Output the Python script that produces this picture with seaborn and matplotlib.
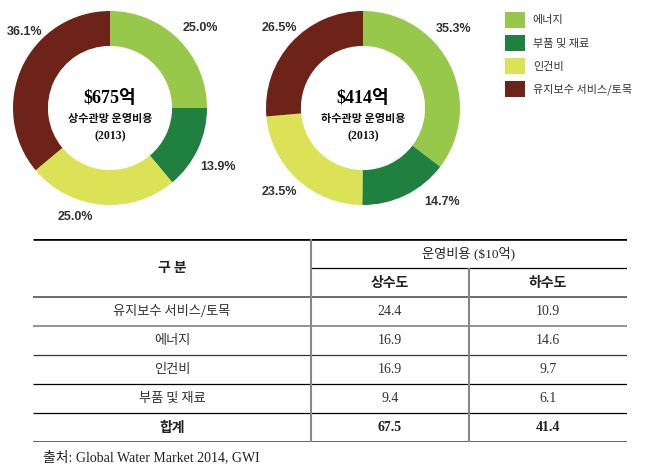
import matplotlib
matplotlib.use("Agg")
import matplotlib.pyplot as plt
from matplotlib.patches import Patch
import seaborn as sns

# Data
categories = ['에너지', '부품 및 재료', '인건비', '유지보수 서비스/토목']
water_cost = [16.9, 9.4, 16.9, 24.4]      # 상수도, $10억
sewer_cost = [14.6, 6.1, 9.7, 10.9]       # 하수도, $10억
water_pct = ['25.0%', '13.9%', '25.0%', '36.1%']
sewer_pct = ['35.3%', '14.7%', '23.5%', '26.5%']
water_total = 67.5
sewer_total = 41.4
table_order = [3, 0, 2, 1]   # 유지보수, 에너지, 인건비, 부품 및 재료

sns.set_theme(style="white")
plt.rcParams['font.family'] = ['Noto Sans CJK KR', 'DejaVu Sans']
palette = sns.color_palette(['#98c84a', '#1f8040', '#dce256', '#6e2318'])

SERIF = ['Liberation Serif', 'Noto Sans CJK KR']
LABEL = ['Liberation Sans', 'Noto Sans CJK KR']

W, H = 660, 470
fig = plt.figure(figsize=(W / 100, H / 100), dpi=100)
fig.patch.set_facecolor('white')


def px_axes(left, top, w, h):
    return fig.add_axes([left / W, 1 - (top + h) / H, w / W, h / H])


def donut(cx, cy, values, pct, label_pos, amount, title):
    r = 97
    ax = px_axes(cx - r, cy - r, 2 * r, 2 * r)
    ax.pie(values, colors=palette, startangle=90, counterclock=False,
           radius=1, wedgeprops=dict(width=0.36, edgecolor='none'))
    ax.set_xlim(-1, 1)
    ax.set_ylim(-1, 1)
    ax.set_aspect('equal')
    ax.axis('off')
    for txt, (x, y) in zip(pct, label_pos):
        ax.text(x, y, txt, ha='center', va='center', fontsize=9,
                fontweight='bold', color='#333333', family=LABEL, clip_on=False)
    ax.text(0, 0.1, amount, ha='center', va='center', fontsize=13,
            fontweight='bold', color='black', family=SERIF)
    ax.text(0, -0.11, title, ha='center', va='center', fontsize=8,
            fontweight='bold', color='#111111')
    ax.text(0, -0.29, '(2013)', ha='center', va='center', fontsize=8.5,
            fontweight='bold', color='#111111', family=SERIF)


donut(110, 108, water_cost, water_pct,
      [(0.93, 0.82), (1.11, -0.61), (-0.36, -1.12), (-0.88, 0.78)],
      '$675억', '상수관망 운영비용')
donut(363, 108, sewer_cost, sewer_pct,
      [(0.93, 0.81), (0.81, -0.97), (-0.86, -0.87), (-0.86, 0.82)],
      '$414억', '하수관망 운영비용')

# Legend
handles = [Patch(facecolor=c, edgecolor='none') for c in palette]
leg = fig.legend(handles, categories, loc='upper left',
                 bbox_to_anchor=(505 / W, 1 - 12 / H), frameon=False,
                 fontsize=8, handlelength=1.8, handleheight=1.8,
                 handletextpad=0.7, labelspacing=0.66,
                 borderpad=0, borderaxespad=0)
for t in leg.get_texts():
    t.set_color('#333333')

# Table
tab = px_axes(33, 239, 594, 203)
tab.set_xlim(0, 1)
tab.set_ylim(7, 0)
tab.axis('off')
col_edges = [0, 0.468, 0.734, 1.0]
c0 = (col_edges[0] + col_edges[1]) / 2
c1 = (col_edges[1] + col_edges[2]) / 2
c2 = (col_edges[2] + col_edges[3]) / 2

tab.hlines(0, 0, 1, color='black', lw=1.9)
tab.hlines(1, col_edges[1], 1, color='black', lw=0.9)
line_styles = [('#444444', 1.1), ('#777777', 1.1), ('#333333', 0.9),
               ('black', 0.9), ('black', 0.9), ('#666666', 1.4)]
for i, (c, lw) in enumerate(line_styles):
    tab.hlines(2 + i, 0, 1, color=c, lw=lw)
tab.vlines(col_edges[1], 0, 7, color='#888888', lw=1.5)
tab.vlines(col_edges[2], 1, 7, color='#888888', lw=1.5)

tab.text(c0, 1, '구 분', ha='center', va='center', fontsize=10,
         fontweight='bold', color='#222222')
tab.text((col_edges[1] + 1) / 2, 0.5, '운영비용 ($10억)', ha='center',
         va='center', fontsize=9.5, color='#222222', family=SERIF)
tab.text(c1, 1.5, '상수도', ha='center', va='center', fontsize=10,
         fontweight='bold', color='#222222')
tab.text(c2, 1.5, '하수도', ha='center', va='center', fontsize=10,
         fontweight='bold', color='#222222')

for i, k in enumerate(table_order):
    y = 2.5 + i
    tab.text(c0, y, categories[k], ha='center', va='center', fontsize=9.5,
             color='#333333')
    tab.text(c1, y, f'{water_cost[k]:.1f}', ha='center', va='center',
             fontsize=10, color='#333333', family=SERIF)
    tab.text(c2, y, f'{sewer_cost[k]:.1f}', ha='center', va='center',
             fontsize=10, color='#333333', family=SERIF)

tab.text(c0, 6.5, '합계', ha='center', va='center', fontsize=10,
         fontweight='bold', color='#222222')
tab.text(c1, 6.5, f'{water_total:.1f}', ha='center', va='center',
         fontsize=10, fontweight='bold', color='#222222', family=SERIF)
tab.text(c2, 6.5, f'{sewer_total:.1f}', ha='center', va='center',
         fontsize=10, fontweight='bold', color='#222222', family=SERIF)

fig.text(43 / W, 1 - 457 / H, '출처: Global Water Market 2014, GWI',
         ha='left', va='center', fontsize=10, color='#222222', family=SERIF)

fig.savefig('out.png', dpi=100, facecolor='white')
